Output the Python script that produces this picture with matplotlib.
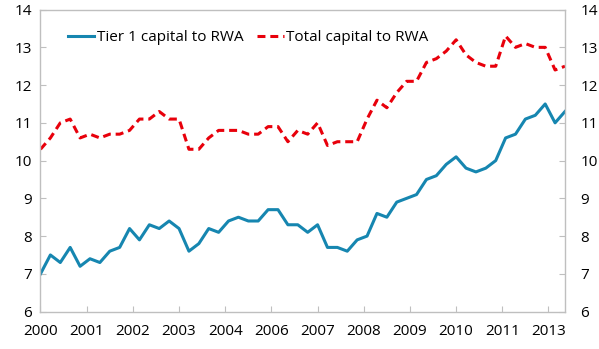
import matplotlib
matplotlib.use("Agg")
import matplotlib.pyplot as plt
import numpy as np

plt.rcParams["font.family"] = ["Open Sans", "DejaVu Sans"]

# Quarterly ratios, 2000Q1 to 2013Q2 (per cent)
tier1 = [7.0, 7.5, 7.3, 7.7, 7.2, 7.4, 7.3, 7.6, 7.7, 8.2,
         7.9, 8.3, 8.2, 8.4, 8.2, 7.6, 7.8, 8.2, 8.1, 8.4,
         8.5, 8.4, 8.4, 8.7, 8.7, 8.3, 8.3, 8.1, 8.3, 7.7,
         7.7, 7.6, 7.9, 8.0, 8.6, 8.5, 8.9, 9.0, 9.1, 9.5,
         9.6, 9.9, 10.1, 9.8, 9.7, 9.8, 10.0, 10.6, 10.7, 11.1,
         11.2, 11.5, 11.0, 11.3]
total = [10.3, 10.6, 11.0, 11.1, 10.6, 10.7, 10.6, 10.7, 10.7, 10.8,
         11.1, 11.1, 11.3, 11.1, 11.1, 10.3, 10.3, 10.6, 10.8, 10.8,
         10.8, 10.7, 10.7, 10.9, 10.9, 10.5, 10.8, 10.7, 11.0, 10.4,
         10.5, 10.5, 10.5, 11.1, 11.6, 11.4, 11.8, 12.1, 12.1, 12.6,
         12.7, 12.9, 13.2, 12.8, 12.6, 12.5, 12.5, 13.3, 13.0, 13.1,
         13.0, 13.0, 12.4, 12.5]

# date axis in months since March 2000, major unit 14 months
tick_labels = ["2000", "2001", "2002", "2003", "2004", "2006",
               "2007", "2008", "2009", "2010", "2011", "2013"]
y_ticks = [6, 7, 8, 9, 10, 11, 12, 13, 14]

months = np.arange(len(tier1)) * 3
tick_pos = np.arange(len(tick_labels)) * 14

fs = 11
grey = "#bfbfbf"
blue = "#1686b0"
red = "#e8000b"

fig = plt.figure(figsize=(5.99, 3.49), dpi=100)
ax = fig.add_axes([0.0676, 0.1072, 0.8756, 0.8653])

ax.plot(months, tier1, color=blue, lw=2.2, label="Tier 1 capital to RWA")
ax.plot(months, total, color=red, lw=2.2, dashes=(2.6, 1.6),
        label="Total capital to RWA")

ax.set_xlim(0, months[-1])
ax.set_ylim(6, 14)
ax.set_xticks(tick_pos)
ax.set_xticklabels(tick_labels)
ax.set_yticks(y_ticks)

for s in ax.spines.values():
    s.set_color(grey)
    s.set_linewidth(1.0)

ax.tick_params(axis="x", direction="in", length=4, color=grey,
               labelsize=fs, pad=9)
ax.tick_params(axis="y", direction="in", length=4, color=grey,
               labelsize=fs, pad=6, left=True, right=False)

# right-hand scale repeats the left one
ax2 = ax.twinx()
ax2.set_ylim(6, 14)
ax2.set_yticks(y_ticks)
for s in ax2.spines.values():
    s.set_visible(False)
ax2.tick_params(axis="y", direction="in", length=4, color=grey,
                labelsize=fs, pad=11)

ax.legend(loc="center left", bbox_to_anchor=(0.04, 0.906), ncol=2,
          frameon=False, fontsize=fs, handlelength=1.75,
          handletextpad=0.15, columnspacing=0.9, borderaxespad=0)

fig.savefig("out.png", dpi=100)
